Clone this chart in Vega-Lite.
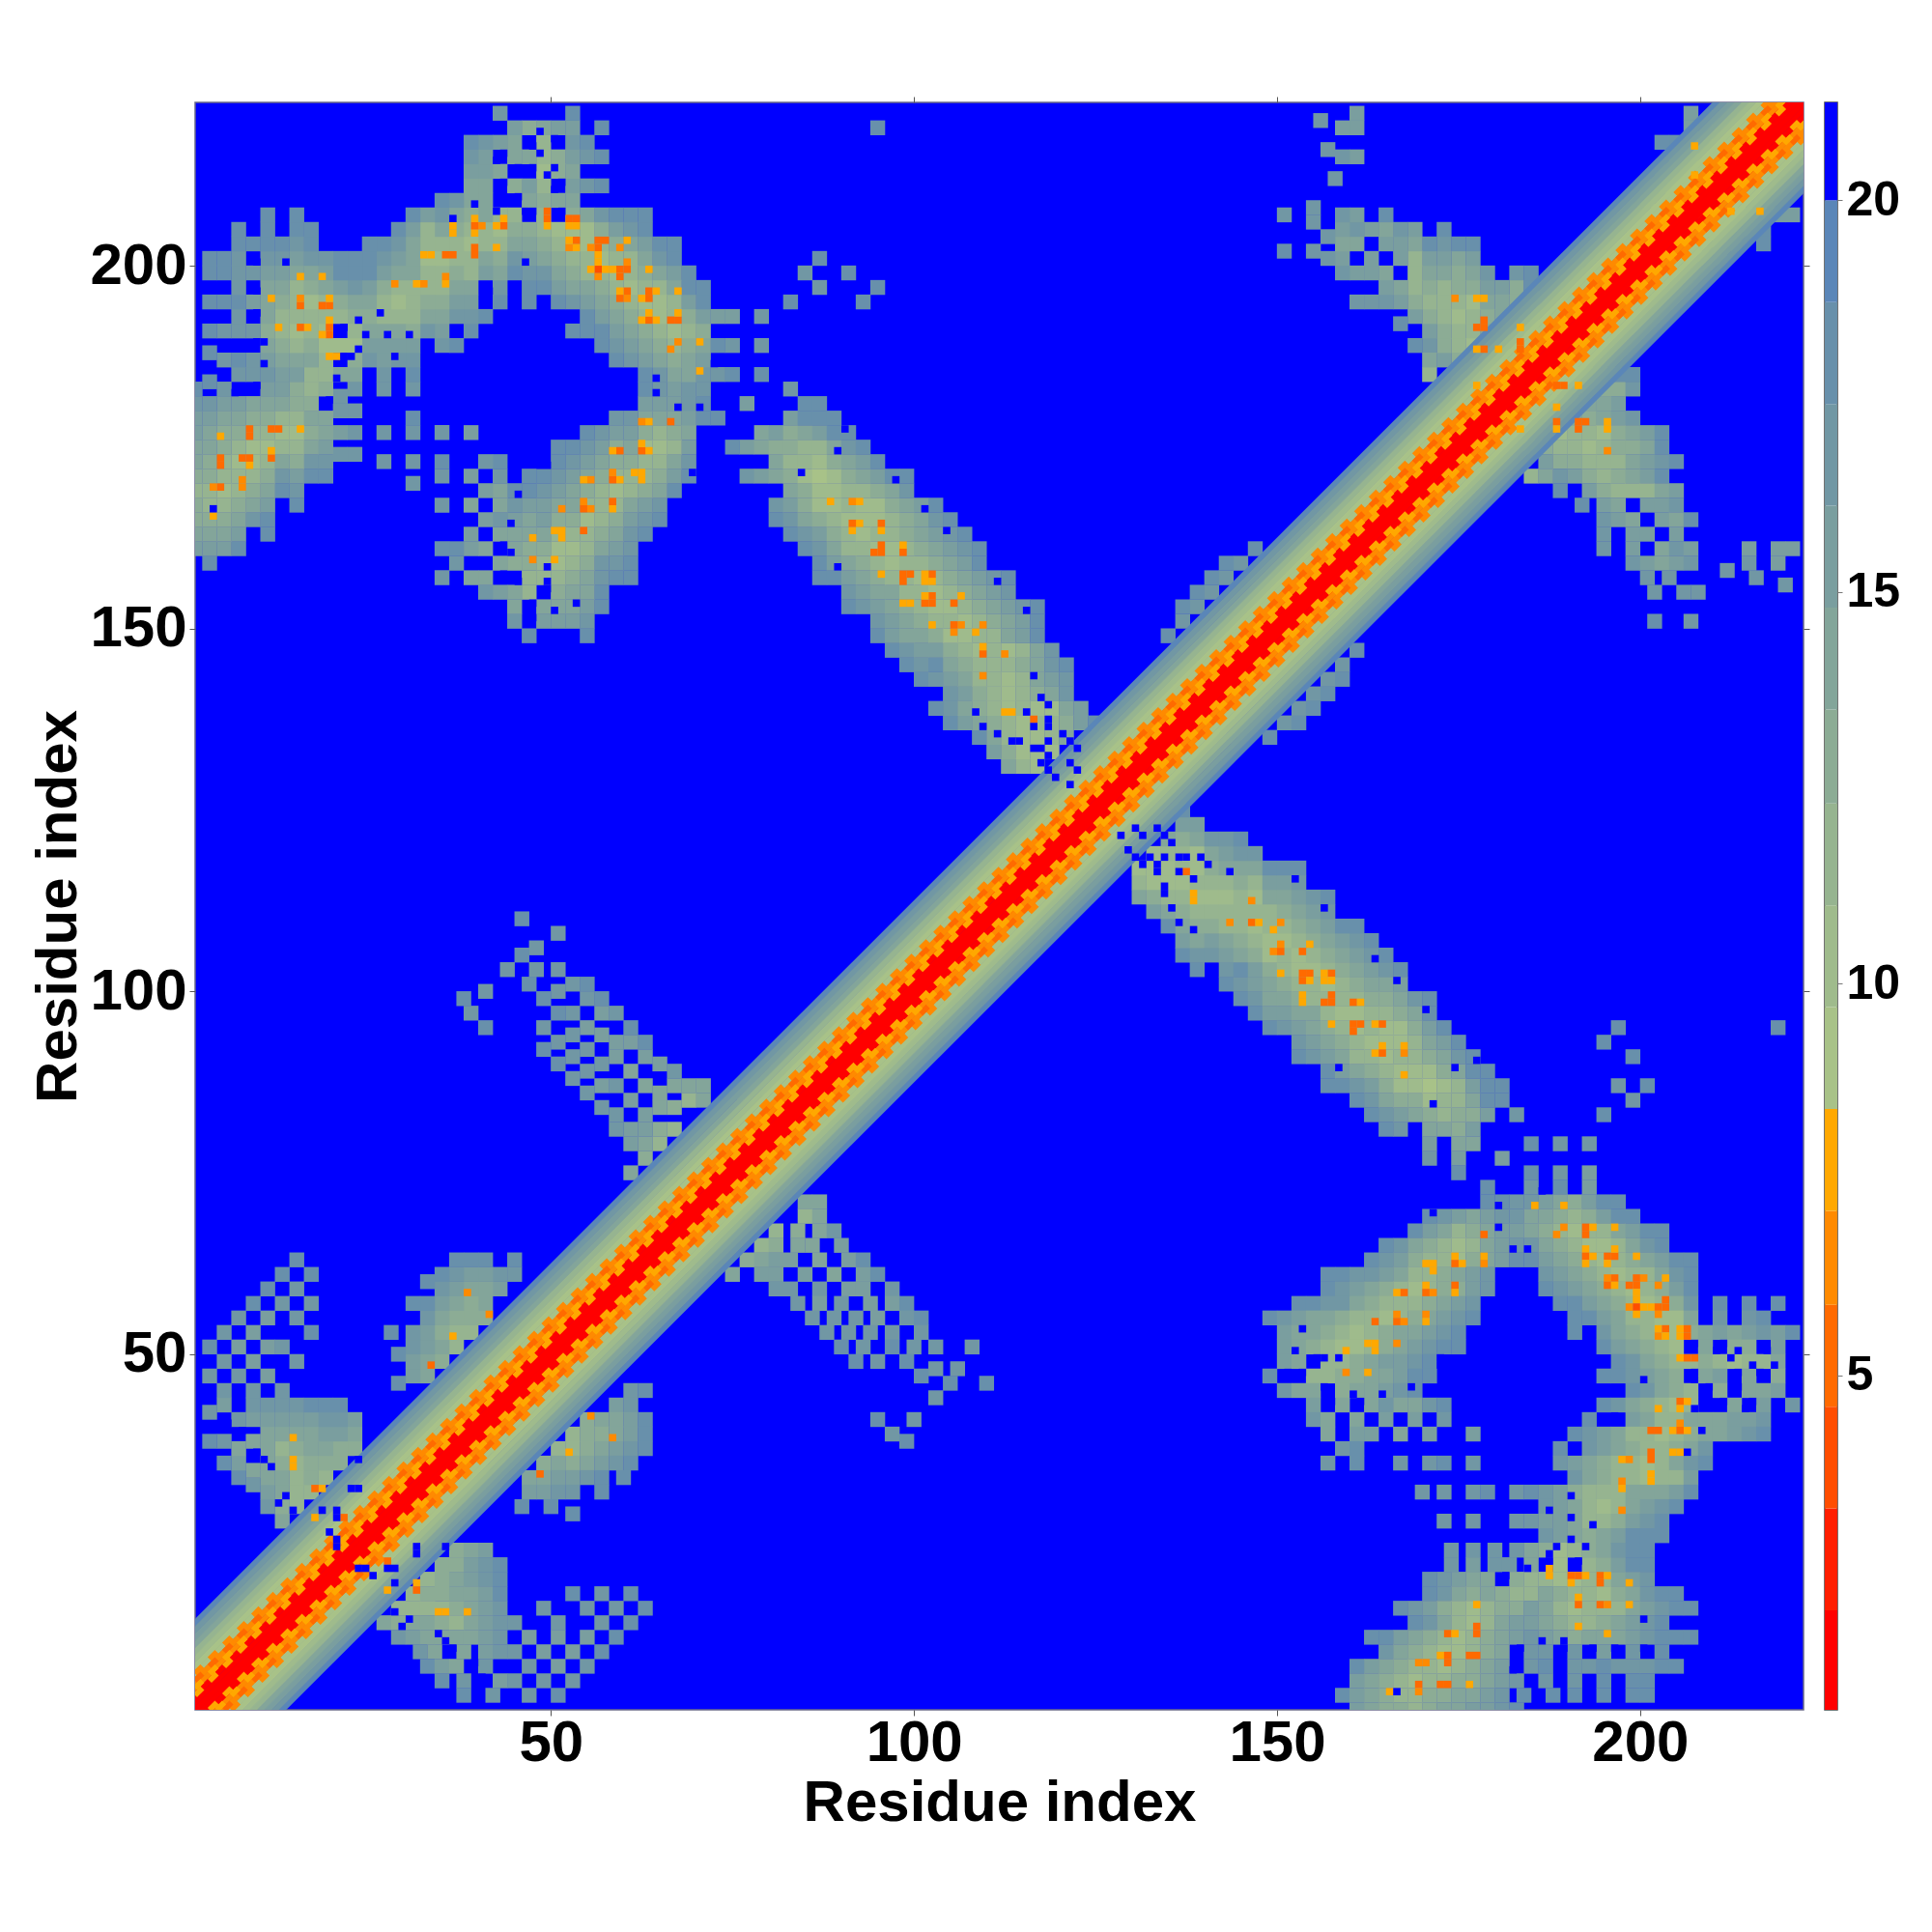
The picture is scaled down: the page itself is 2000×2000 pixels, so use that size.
{"$schema":"https://vega.github.io/schema/vega-lite/v6.json","background":"white","padding":{"left":30,"top":98,"right":0,"bottom":0},"spacing":22,"bounds":"flush",
"datasets":{
"band":[{"x0":3,"y0":-9,"x1":232,"y1":220,"v":19},{"x0":2,"y0":-9,"x1":232,"y1":221,"v":17},{"x0":1,"y0":-9,"x1":232,"y1":222,"v":16},{"x0":0,"y0":-9,"x1":232,"y1":223,"v":14},{"x0":-1,"y0":-9,"x1":232,"y1":224,"v":12},{"x0":-2,"y0":-9,"x1":232,"y1":225,"v":10},{"x0":-3,"y0":-9,"x1":232,"y1":226,"v":9},{"x0":-4,"y0":-9,"x1":232,"y1":227,"v":9},{"x0":-5,"y0":-9,"x1":232,"y1":228,"v":6},{"x0":-6,"y0":-9,"x1":232,"y1":229,"v":6},{"x0":-7,"y0":-9,"x1":232,"y1":230,"v":1},{"x0":-8,"y0":-9,"x1":232,"y1":231,"v":1},{"x0":-9,"y0":-9,"x1":232,"y1":232,"v":1}],
"dash":[{"x0":-4,"y0":-9,"x1":232,"y1":227,"v":6},{"x0":-5,"y0":-9,"x1":232,"y1":228,"v":5},{"x0":-6,"y0":-9,"x1":232,"y1":229,"v":8},{"x0":-7,"y0":-9,"x1":232,"y1":230,"v":8}],
"bar":[{"lo":0.73,"hi":2,"v":1},{"lo":2,"hi":3.3,"v":2.5},{"lo":3.3,"hi":4.6,"v":4},{"lo":4.6,"hi":5.9,"v":5},{"lo":5.9,"hi":7.1,"v":6},{"lo":7.1,"hi":8.4,"v":8},{"lo":8.4,"hi":9.7,"v":9},{"lo":9.7,"hi":11,"v":10},{"lo":11,"hi":12.3,"v":12},{"lo":12.3,"hi":13.5,"v":13},{"lo":13.5,"hi":14.8,"v":14},{"lo":14.8,"hi":16.1,"v":16},{"lo":16.1,"hi":17.4,"v":17},{"lo":17.4,"hi":18.7,"v":18},{"lo":18.7,"hi":20,"v":19},{"lo":20,"hi":21.25,"v":21}],
"spots":[{"x":138.5,"y":113.5,"v":8},{"x":138.5,"y":112.5,"v":8},{"x":137.5,"y":116.5,"v":5},{"x":146.5,"y":112.5,"v":6},{"x":143.5,"y":109.5,"v":6},{"x":146.5,"y":109.5,"v":5},{"x":147.5,"y":109.5,"v":8},{"x":150.5,"y":109.5,"v":6},{"x":149.5,"y":108.5,"v":8},{"x":150.5,"y":106.5,"v":6},{"x":149.5,"y":105.5,"v":6},{"x":150.5,"y":105.5,"v":5},{"x":154.5,"y":106.5,"v":8},{"x":153.5,"y":105.5,"v":5},{"x":150.5,"y":102.5,"v":8},{"x":153.5,"y":102.5,"v":5},{"x":154.5,"y":102.5,"v":5},{"x":153.5,"y":101.5,"v":5},{"x":154.5,"y":101.5,"v":8},{"x":156.5,"y":102.5,"v":8},{"x":157.5,"y":102.5,"v":5},{"x":156.5,"y":101.5,"v":8},{"x":157.5,"y":101.5,"v":8},{"x":153.5,"y":99.5,"v":8},{"x":153.5,"y":98.5,"v":8},{"x":157.5,"y":99.5,"v":5},{"x":156.5,"y":98.5,"v":5},{"x":157.5,"y":98.5,"v":5},{"x":160.5,"y":98.5,"v":5},{"x":161.5,"y":98.5,"v":8},{"x":157.5,"y":95.5,"v":8},{"x":160.5,"y":95.5,"v":5},{"x":161.5,"y":95.5,"v":5},{"x":160.5,"y":94.5,"v":5},{"x":163.5,"y":95.5,"v":8},{"x":164.5,"y":95.5,"v":5},{"x":164.5,"y":92.5,"v":8},{"x":163.5,"y":91.5,"v":8},{"x":164.5,"y":91.5,"v":5},{"x":167.5,"y":92.5,"v":8},{"x":167.5,"y":91.5,"v":6},{"x":167.5,"y":88.5,"v":8},
{"x":185.5,"y":70.5,"v":8},{"x":189.5,"y":70.5,"v":8},{"x":178.5,"y":66.5,"v":5},{"x":189.5,"y":67.5,"v":6},{"x":188.5,"y":66.5,"v":6},{"x":192.5,"y":67.5,"v":5},{"x":192.5,"y":66.5,"v":5},{"x":193.5,"y":67.5,"v":8},{"x":196.5,"y":67.5,"v":8},{"x":192.5,"y":64.5,"v":8},{"x":192.5,"y":63.5,"v":5},{"x":193.5,"y":63.5,"v":8},{"x":195.5,"y":63.5,"v":5},{"x":196.5,"y":63.5,"v":5},{"x":196.5,"y":64.5,"v":8},{"x":199.5,"y":63.5,"v":8},{"x":192.5,"y":62.5,"v":8},{"x":195.5,"y":62.5,"v":8},{"x":195.5,"y":60.5,"v":6},{"x":196.5,"y":60.5,"v":5},{"x":195.5,"y":59.5,"v":5},{"x":196.5,"y":59.5,"v":8},{"x":199.5,"y":60.5,"v":5},{"x":200.5,"y":60.5,"v":6},{"x":198.5,"y":59.5,"v":5},{"x":199.5,"y":59.5,"v":5},{"x":203.5,"y":60.5,"v":8},{"x":202.5,"y":59.5,"v":6},{"x":199.5,"y":58.5,"v":8},{"x":199.5,"y":57.5,"v":8},{"x":198.5,"y":56.5,"v":6},{"x":199.5,"y":56.5,"v":4},{"x":200.5,"y":56.5,"v":8},{"x":201.5,"y":56.5,"v":8},{"x":202.5,"y":56.5,"v":5},{"x":203.5,"y":57.5,"v":5},{"x":203.5,"y":56.5,"v":5},{"x":202.5,"y":55.5,"v":6},{"x":199.5,"y":55.5,"v":8},{"x":202.5,"y":53.5,"v":8},{"x":203.5,"y":53.5,"v":5},{"x":202.5,"y":52.5,"v":6},{"x":203.5,"y":52.5,"v":8},{"x":205.5,"y":53.5,"v":8},{"x":206.5,"y":53.5,"v":5},{"x":205.5,"y":52.5,"v":8},{"x":206.5,"y":52.5,"v":5},{"x":205.5,"y":49.5,"v":8},{"x":206.5,"y":49.5,"v":5},{"x":207.5,"y":49.5,"v":5},{"x":205.5,"y":43.5,"v":5},{"x":206.5,"y":43.5,"v":8},{"x":202.5,"y":42.5,"v":8},{"x":205.5,"y":42.5,"v":8},{"x":205.5,"y":40.5,"v":6},{"x":201.5,"y":39.5,"v":5},{"x":202.5,"y":39.5,"v":5},{"x":204.5,"y":39.5,"v":8},{"x":205.5,"y":39.5,"v":5},{"x":206.5,"y":39.5,"v":8},{"x":201.5,"y":36.5,"v":5},{"x":201.5,"y":35.5,"v":5},{"x":204.5,"y":36.5,"v":8},{"x":205.5,"y":36.5,"v":8},{"x":197.5,"y":35.5,"v":8},{"x":198.5,"y":35.5,"v":6},{"x":201.5,"y":33.5,"v":8},{"x":201.5,"y":32.5,"v":8},{"x":197.5,"y":32.5,"v":6},{"x":197.5,"y":31.5,"v":8},{"x":197.5,"y":28.5,"v":6},
{"x":178.5,"y":63.5,"v":8},{"x":178.5,"y":62.5,"v":6},{"x":174.5,"y":63.5,"v":8},{"x":174.5,"y":62.5,"v":5},{"x":175.5,"y":62.5,"v":8},{"x":170.5,"y":62.5,"v":8},{"x":171.5,"y":62.5,"v":8},{"x":171.5,"y":61.5,"v":8},{"x":170.5,"y":59.5,"v":8},{"x":174.5,"y":59.5,"v":5},{"x":170.5,"y":58.5,"v":5},{"x":171.5,"y":58.5,"v":6},{"x":174.5,"y":58.5,"v":8},{"x":166.5,"y":58.5,"v":8},{"x":167.5,"y":58.5,"v":5},{"x":166.5,"y":55.5,"v":6},{"x":166.5,"y":54.5,"v":5},{"x":167.5,"y":54.5,"v":6},{"x":170.5,"y":55.5,"v":6},{"x":170.5,"y":54.5,"v":8},{"x":163.5,"y":54.5,"v":5},{"x":166.5,"y":51.5,"v":6},{"x":162.5,"y":51.5,"v":8},{"x":163.5,"y":51.5,"v":8},{"x":163.5,"y":50.5,"v":8},{"x":159.5,"y":50.5,"v":8},{"x":159.5,"y":47.5,"v":6},{"x":162.5,"y":47.5,"v":8},
{"x":187.5,"y":20.5,"v":8},{"x":187.5,"y":19.5,"v":8},{"x":190.5,"y":19.5,"v":5},{"x":191.5,"y":19.5,"v":5},{"x":192.5,"y":19.5,"v":8},{"x":190.5,"y":18.5,"v":8},{"x":194.5,"y":19.5,"v":5},{"x":194.5,"y":18.5,"v":5},{"x":195.5,"y":19.5,"v":8},{"x":198.5,"y":18.5,"v":8},{"x":191.5,"y":16.5,"v":8},{"x":191.5,"y":15.5,"v":5},{"x":194.5,"y":15.5,"v":5},{"x":195.5,"y":15.5,"v":6},{"x":198.5,"y":15.5,"v":8},{"x":191.5,"y":12.5,"v":8},{"x":195.5,"y":11.5,"v":8},{"x":177.5,"y":15.5,"v":8},{"x":177.5,"y":12.5,"v":5},{"x":177.5,"y":11.5,"v":5},{"x":173.5,"y":11.5,"v":5},{"x":174.5,"y":11.5,"v":8},{"x":172.5,"y":8.5,"v":8},{"x":173.5,"y":8.5,"v":5},{"x":173.5,"y":7.5,"v":5},{"x":176.5,"y":8.5,"v":5},{"x":177.5,"y":8.5,"v":5},{"x":169.5,"y":7.5,"v":6},{"x":170.5,"y":7.5,"v":6},{"x":169.5,"y":4.5,"v":5},{"x":172.5,"y":4.5,"v":5},{"x":173.5,"y":4.5,"v":5},{"x":176.5,"y":4.5,"v":8},{"x":169.5,"y":3.5,"v":6},{"x":165.5,"y":3.5,"v":8},
{"x":188.5,"y":183.5,"v":5},{"x":189.5,"y":183.5,"v":5},{"x":191.5,"y":183.5,"v":8},{"x":188.5,"y":180.5,"v":8},{"x":188.5,"y":178.5,"v":5},{"x":188.5,"y":177.5,"v":8},{"x":191.5,"y":178.5,"v":5},{"x":192.5,"y":178.5,"v":5},{"x":191.5,"y":177.5,"v":5},{"x":195.5,"y":178.5,"v":8},{"x":195.5,"y":177.5,"v":8},{"x":195.5,"y":174.5,"v":6},{"x":183.5,"y":177.5,"v":8},{"x":27.5,"y":21.5,"v":5},{"x":27.5,"y":17.5,"v":8},{"x":31.5,"y":18.5,"v":8},{"x":31.5,"y":17.5,"v":5},{"x":34.5,"y":14.5,"v":8},{"x":35.5,"y":14.5,"v":8},{"x":38.5,"y":14.5,"v":8},{"x":216.5,"y":207.5,"v":8},{"x":212.5,"y":207.5,"v":8},{"x":55.5,"y":41.5,"v":6},{"x":58.5,"y":38.5,"v":6},{"x":52.5,"y":36.5,"v":8},{"x":48.5,"y":33.5,"v":5},
{"x":128.5,"y":121.5,"v":21},{"x":130.5,"y":122.5,"v":21},{"x":131.5,"y":121.5,"v":21},{"x":133.5,"y":122.5,"v":21},{"x":134.5,"y":121.5,"v":21},{"x":135.5,"y":120.5,"v":21},{"x":129.5,"y":119.5,"v":21},{"x":130.5,"y":118.5,"v":21},{"x":132.5,"y":118.5,"v":21},{"x":134.5,"y":118.5,"v":21},{"x":136.5,"y":118.5,"v":21},{"x":137.5,"y":118.5,"v":21},{"x":131.5,"y":117.5,"v":21},{"x":133.5,"y":117.5,"v":21},{"x":133.5,"y":116.5,"v":21},{"x":136.5,"y":116.5,"v":21},{"x":138.5,"y":115.5,"v":21},{"x":134.5,"y":114.5,"v":21},{"x":134.5,"y":113.5,"v":21},{"x":135.5,"y":111.5,"v":21},{"x":136.5,"y":109.5,"v":21},{"x":138.5,"y":108.5,"v":21},{"x":143.5,"y":116.5,"v":21},{"x":140.5,"y":117.5,"v":21},{"x":139.5,"y":118.5,"v":21},{"x":152.5,"y":115.5,"v":21},{"x":156.5,"y":111.5,"v":21},{"x":163.5,"y":104.5,"v":21},{"x":166.5,"y":101.5,"v":21},{"x":170.5,"y":97.5,"v":21},{"x":174.5,"y":89.5,"v":21},{"x":177.5,"y":90.5,"v":21},{"x":158.5,"y":89.5,"v":21},{"x":171.5,"y":84.5,"v":21},
{"x":23.5,"y":20.5,"v":21},{"x":24.5,"y":20.5,"v":21},{"x":25.5,"y":19.5,"v":21},{"x":27.5,"y":20.5,"v":21},{"x":28.5,"y":20.5,"v":21},{"x":28.5,"y":18.5,"v":21},{"x":31.5,"y":23.5,"v":21},{"x":31.5,"y":22.5,"v":21},{"x":35.5,"y":23.5,"v":21},{"x":28.5,"y":14.5,"v":21},{"x":30.5,"y":13.5,"v":21},{"x":29.5,"y":12.5,"v":21},{"x":34.5,"y":11.5,"v":21},{"x":35.5,"y":10.5,"v":21},{"x":36.5,"y":9.5,"v":21},{"x":39.5,"y":7.5,"v":21},{"x":40.5,"y":5.5,"v":21},
{"x":153.5,"y":53.5,"v":21},{"x":152.5,"y":50.5,"v":21},{"x":155.5,"y":49.5,"v":21},{"x":156.5,"y":49.5,"v":21},{"x":158.5,"y":49.5,"v":21},{"x":151.5,"y":47.5,"v":21},{"x":153.5,"y":47.5,"v":21},{"x":156.5,"y":45.5,"v":21},{"x":157.5,"y":43.5,"v":21},{"x":160.5,"y":44.5,"v":21},{"x":161.5,"y":43.5,"v":21},{"x":164.5,"y":44.5,"v":21},{"x":168.5,"y":45.5,"v":21},{"x":172.5,"y":49.5,"v":21},{"x":172.5,"y":48.5,"v":21},{"x":200.5,"y":46.5,"v":21},{"x":207.5,"y":47.5,"v":21},{"x":207.5,"y":46.5,"v":21},{"x":207.5,"y":51.5,"v":21},{"x":211.5,"y":51.5,"v":21},{"x":210.5,"y":50.5,"v":21},{"x":213.5,"y":50.5,"v":21},{"x":217.5,"y":50.5,"v":21},{"x":212.5,"y":49.5,"v":21},{"x":215.5,"y":48.5,"v":21},{"x":218.5,"y":48.5,"v":21},{"x":213.5,"y":47.5,"v":21},{"x":216.5,"y":47.5,"v":21},{"x":209.5,"y":45.5,"v":21},{"x":213.5,"y":45.5,"v":21},{"x":209.5,"y":43.5,"v":21},{"x":211.5,"y":43.5,"v":21},{"x":215.5,"y":43.5,"v":21},{"x":214.5,"y":42.5,"v":21},{"x":207.5,"y":42.5,"v":21},{"x":208.5,"y":39.5,"v":21},{"x":206.5,"y":36.5,"v":21},{"x":196.5,"y":41.5,"v":21},{"x":190.5,"y":30.5,"v":21},{"x":187.5,"y":28.5,"v":21},{"x":190.5,"y":27.5,"v":21},{"x":193.5,"y":26.5,"v":21},{"x":190.5,"y":24.5,"v":21},{"x":188.5,"y":23.5,"v":21},{"x":192.5,"y":23.5,"v":21},{"x":187.5,"y":22.5,"v":21},{"x":187.5,"y":21.5,"v":21},{"x":191.5,"y":21.5,"v":21},{"x":184.5,"y":20.5,"v":21},{"x":181.5,"y":19.5,"v":21},{"x":200.5,"y":13.5,"v":21},{"x":183.5,"y":9.5,"v":21},{"x":186.5,"y":10.5,"v":21},{"x":189.5,"y":10.5,"v":21},{"x":189.5,"y":9.5,"v":21},{"x":193.5,"y":9.5,"v":21},{"x":196.5,"y":9.5,"v":21},{"x":200.5,"y":9.5,"v":21},{"x":182.5,"y":6.5,"v":21},{"x":166.5,"y":3.5,"v":21},{"x":180.5,"y":70.5,"v":21},{"x":186.5,"y":72.5,"v":21},{"x":180.5,"y":67.5,"v":21},{"x":182.5,"y":64.5,"v":21},{"x":184.5,"y":64.5,"v":21},{"x":171.5,"y":69.5,"v":21}],
"cells":[
{"x":149,"y":135,"v":18},{"x":151,"y":137,"v":17},{"x":153,"y":139,"v":17},{"x":155,"y":141,"v":17},{"x":157,"y":143,"v":17},{"x":159,"y":145,"v":17},{"x":161,"y":147,"v":18},{"x":153,"y":137,"v":18},{"x":155,"y":139,"v":18},{"x":157,"y":141,"v":18},{"x":159,"y":143,"v":18},
{"x":131,"y":113,"v":14},{"x":131,"y":115,"v":12},{"x":131,"y":117,"v":10},{"x":133,"y":111,"v":16},{"x":133,"y":113,"v":13},{"x":133,"y":115,"v":10},{"x":133,"y":117,"v":10},{"x":133,"y":119,"v":10},{"x":135,"y":109,"v":18},{"x":135,"y":111,"v":14},{"x":135,"y":113,"v":12},{"x":135,"y":115,"v":10},{"x":135,"y":117,"v":10},{"x":135,"y":119,"v":12},{"x":135,"y":121,"v":14},
{"x":137,"y":105,"v":18},{"x":137,"y":107,"v":16},{"x":137,"y":109,"v":14},{"x":137,"y":111,"v":13},{"x":137,"y":113,"v":12},{"x":137,"y":115,"v":10},{"x":137,"y":117,"v":12},{"x":137,"y":119,"v":12},{"x":137,"y":121,"v":13},{"x":137,"y":123,"v":16},{"x":137,"y":125,"v":18},
{"x":139,"y":103,"v":18},{"x":139,"y":105,"v":17},{"x":139,"y":107,"v":14},{"x":139,"y":109,"v":13},{"x":139,"y":111,"v":12},{"x":139,"y":113,"v":10},{"x":139,"y":115,"v":12},{"x":139,"y":117,"v":10},{"x":139,"y":119,"v":10},{"x":139,"y":121,"v":14},{"x":139,"y":123,"v":16},
{"x":141,"y":105,"v":17},{"x":141,"y":107,"v":16},{"x":141,"y":109,"v":13},{"x":141,"y":111,"v":12},{"x":141,"y":113,"v":10},{"x":141,"y":115,"v":12},{"x":141,"y":117,"v":13},{"x":141,"y":119,"v":14},{"x":141,"y":121,"v":17},
{"x":143,"y":101,"v":18},{"x":143,"y":103,"v":17},{"x":143,"y":105,"v":16},{"x":143,"y":107,"v":14},{"x":143,"y":109,"v":12},{"x":143,"y":111,"v":12},{"x":143,"y":113,"v":10},{"x":143,"y":115,"v":12},{"x":143,"y":117,"v":14},{"x":143,"y":119,"v":16},{"x":143,"y":121,"v":17},
{"x":145,"y":99,"v":18},{"x":145,"y":101,"v":17},{"x":145,"y":103,"v":18},{"x":145,"y":105,"v":14},{"x":145,"y":107,"v":13},{"x":145,"y":109,"v":12},{"x":145,"y":111,"v":12},{"x":145,"y":113,"v":12},{"x":145,"y":115,"v":13},{"x":145,"y":117,"v":14},{"x":145,"y":119,"v":17},{"x":145,"y":121,"v":18},
{"x":147,"y":97,"v":18},{"x":147,"y":99,"v":17},{"x":147,"y":101,"v":16},{"x":147,"y":103,"v":16},{"x":147,"y":105,"v":13},{"x":147,"y":107,"v":12},{"x":147,"y":109,"v":10},{"x":147,"y":111,"v":12},{"x":147,"y":113,"v":10},{"x":147,"y":115,"v":12},{"x":147,"y":117,"v":14},{"x":147,"y":119,"v":17},
{"x":149,"y":95,"v":18},{"x":149,"y":97,"v":16},{"x":149,"y":99,"v":14},{"x":149,"y":101,"v":14},{"x":149,"y":103,"v":13},{"x":149,"y":105,"v":10},{"x":149,"y":107,"v":10},{"x":149,"y":109,"v":12},{"x":149,"y":111,"v":12},{"x":149,"y":113,"v":14},{"x":149,"y":115,"v":16},{"x":149,"y":117,"v":18},
{"x":151,"y":95,"v":17},{"x":151,"y":97,"v":16},{"x":151,"y":99,"v":14},{"x":151,"y":101,"v":13},{"x":151,"y":103,"v":12},{"x":151,"y":105,"v":12},{"x":151,"y":107,"v":10},{"x":151,"y":109,"v":12},{"x":151,"y":111,"v":13},{"x":151,"y":113,"v":14},{"x":151,"y":115,"v":16},{"x":151,"y":117,"v":18},
{"x":153,"y":91,"v":18},{"x":153,"y":93,"v":17},{"x":153,"y":95,"v":16},{"x":153,"y":97,"v":14},{"x":153,"y":99,"v":13},{"x":153,"y":101,"v":12},{"x":153,"y":103,"v":10},{"x":153,"y":105,"v":10},{"x":153,"y":107,"v":12},{"x":153,"y":109,"v":13},{"x":153,"y":111,"v":14},{"x":153,"y":113,"v":16},{"x":153,"y":115,"v":17},{"x":153,"y":117,"v":18},
{"x":155,"y":91,"v":17},{"x":155,"y":93,"v":16},{"x":155,"y":95,"v":14},{"x":155,"y":97,"v":14},{"x":155,"y":99,"v":12},{"x":155,"y":101,"v":12},{"x":155,"y":103,"v":10},{"x":155,"y":105,"v":12},{"x":155,"y":107,"v":13},{"x":155,"y":109,"v":14},{"x":155,"y":111,"v":16},{"x":155,"y":113,"v":17},
{"x":157,"y":87,"v":18},{"x":157,"y":89,"v":18},{"x":157,"y":91,"v":16},{"x":157,"y":93,"v":14},{"x":157,"y":95,"v":13},{"x":157,"y":97,"v":12},{"x":157,"y":99,"v":12},{"x":157,"y":101,"v":10},{"x":157,"y":103,"v":12},{"x":157,"y":105,"v":13},{"x":157,"y":107,"v":14},{"x":157,"y":109,"v":16},{"x":157,"y":111,"v":17},{"x":157,"y":113,"v":18},
{"x":159,"y":87,"v":18},{"x":159,"y":89,"v":16},{"x":159,"y":91,"v":14},{"x":159,"y":93,"v":13},{"x":159,"y":95,"v":12},{"x":159,"y":97,"v":10},{"x":159,"y":99,"v":12},{"x":159,"y":101,"v":12},{"x":159,"y":103,"v":13},{"x":159,"y":105,"v":14},{"x":159,"y":107,"v":16},{"x":159,"y":109,"v":18},
{"x":161,"y":85,"v":18},{"x":161,"y":87,"v":17},{"x":161,"y":89,"v":14},{"x":161,"y":91,"v":12},{"x":161,"y":93,"v":12},{"x":161,"y":95,"v":10},{"x":161,"y":97,"v":10},{"x":161,"y":99,"v":12},{"x":161,"y":101,"v":13},{"x":161,"y":103,"v":14},{"x":161,"y":105,"v":16},{"x":161,"y":107,"v":17},{"x":161,"y":109,"v":18},
{"x":163,"y":83,"v":18},{"x":163,"y":85,"v":17},{"x":163,"y":87,"v":16},{"x":163,"y":89,"v":13},{"x":163,"y":91,"v":12},{"x":163,"y":93,"v":10},{"x":163,"y":95,"v":12},{"x":163,"y":97,"v":12},{"x":163,"y":99,"v":13},{"x":163,"y":101,"v":14},{"x":163,"y":103,"v":16},{"x":163,"y":105,"v":17},{"x":163,"y":107,"v":18},
{"x":165,"y":81,"v":18},{"x":165,"y":83,"v":17},{"x":165,"y":85,"v":14},{"x":165,"y":87,"v":13},{"x":165,"y":89,"v":12},{"x":165,"y":91,"v":10},{"x":165,"y":93,"v":10},{"x":165,"y":95,"v":10},{"x":165,"y":97,"v":12},{"x":165,"y":99,"v":13},{"x":165,"y":101,"v":14},{"x":165,"y":103,"v":17},{"x":165,"y":105,"v":18},
{"x":167,"y":81,"v":17},{"x":167,"y":83,"v":16},{"x":167,"y":85,"v":13},{"x":167,"y":87,"v":10},{"x":167,"y":89,"v":10},{"x":167,"y":91,"v":12},{"x":167,"y":93,"v":10},{"x":167,"y":95,"v":10},{"x":167,"y":97,"v":13},{"x":167,"y":99,"v":14},{"x":167,"y":101,"v":16},{"x":167,"y":103,"v":18},
{"x":169,"y":83,"v":14},{"x":169,"y":85,"v":13},{"x":169,"y":87,"v":10},{"x":169,"y":89,"v":10},{"x":169,"y":91,"v":12},{"x":169,"y":93,"v":12},{"x":169,"y":95,"v":13},{"x":169,"y":97,"v":14},{"x":169,"y":99,"v":17},
{"x":171,"y":77,"v":17},{"x":171,"y":79,"v":16},{"x":171,"y":81,"v":14},{"x":171,"y":83,"v":13},{"x":171,"y":85,"v":10},{"x":171,"y":87,"v":9},{"x":171,"y":89,"v":10},{"x":171,"y":91,"v":13},{"x":171,"y":93,"v":14},{"x":171,"y":95,"v":16},{"x":171,"y":97,"v":18},{"x":171,"y":99,"v":18},
{"x":173,"y":81,"v":14},{"x":173,"y":83,"v":12},{"x":173,"y":85,"v":12},{"x":173,"y":87,"v":10},{"x":173,"y":89,"v":13},{"x":173,"y":91,"v":14},{"x":173,"y":93,"v":16},{"x":173,"y":95,"v":18},
{"x":175,"y":77,"v":16},{"x":175,"y":79,"v":14},{"x":175,"y":81,"v":13},{"x":175,"y":83,"v":13},{"x":175,"y":85,"v":12},{"x":175,"y":87,"v":12},{"x":175,"y":89,"v":14},{"x":175,"y":91,"v":17},{"x":175,"y":93,"v":18},
{"x":177,"y":79,"v":14},{"x":177,"y":81,"v":16},{"x":177,"y":83,"v":13},{"x":177,"y":85,"v":14},{"x":177,"y":87,"v":16},{"x":177,"y":89,"v":18},{"x":177,"y":91,"v":18},{"x":179,"y":83,"v":16},{"x":179,"y":85,"v":18},{"x":179,"y":87,"v":18},{"x":179,"y":89,"v":18},{"x":181,"y":85,"v":18},{"x":181,"y":87,"v":18},{"x":181,"y":77,"v":16},{"x":183,"y":83,"v":17},
{"x":195,"y":93,"v":18},{"x":197,"y":95,"v":18},{"x":199,"y":91,"v":18},{"x":197,"y":87,"v":17},{"x":199,"y":85,"v":17},{"x":201,"y":87,"v":18},{"x":195,"y":83,"v":18},{"x":219,"y":95,"v":18},{"x":189,"y":79,"v":17},{"x":185,"y":79,"v":18},{"x":193,"y":79,"v":17},
{"x":175,"y":75,"v":18},{"x":185,"y":75,"v":18},{"x":189,"y":75,"v":17},{"x":193,"y":75,"v":16},{"x":179,"y":73,"v":18},{"x":185,"y":73,"v":17},{"x":189,"y":73,"v":18},{"x":193,"y":73,"v":16},
{"x":179,"y":71,"v":18},{"x":181,"y":71,"v":18},{"x":183,"y":71,"v":17},{"x":185,"y":71,"v":17},{"x":187,"y":71,"v":16},{"x":189,"y":71,"v":14},{"x":191,"y":71,"v":13},{"x":193,"y":71,"v":16},{"x":195,"y":71,"v":18},{"x":197,"y":71,"v":18},
{"x":171,"y":69,"v":18},{"x":173,"y":69,"v":17},{"x":175,"y":69,"v":16},{"x":177,"y":69,"v":14},{"x":179,"y":69,"v":16},{"x":181,"y":69,"v":17},{"x":183,"y":69,"v":17},{"x":185,"y":69,"v":14},{"x":187,"y":69,"v":14},{"x":189,"y":69,"v":13},{"x":191,"y":69,"v":12},{"x":193,"y":69,"v":13},{"x":195,"y":69,"v":16},{"x":197,"y":69,"v":18},{"x":199,"y":69,"v":18},
{"x":169,"y":67,"v":18},{"x":171,"y":67,"v":16},{"x":173,"y":67,"v":14},{"x":175,"y":67,"v":12},{"x":177,"y":67,"v":13},{"x":179,"y":67,"v":14},{"x":181,"y":67,"v":16},{"x":183,"y":67,"v":16},{"x":185,"y":67,"v":14},{"x":187,"y":67,"v":13},{"x":189,"y":67,"v":12},{"x":191,"y":67,"v":10},{"x":193,"y":67,"v":12},{"x":195,"y":67,"v":12},{"x":197,"y":67,"v":14},{"x":199,"y":67,"v":16},{"x":201,"y":67,"v":18},{"x":203,"y":67,"v":18},
{"x":165,"y":65,"v":18},{"x":167,"y":65,"v":17},{"x":169,"y":65,"v":14},{"x":171,"y":65,"v":13},{"x":173,"y":65,"v":12},{"x":175,"y":65,"v":10},{"x":177,"y":65,"v":12},{"x":179,"y":65,"v":14},{"x":181,"y":65,"v":16},{"x":183,"y":65,"v":17},{"x":185,"y":65,"v":17},{"x":187,"y":65,"v":14},{"x":189,"y":65,"v":13},{"x":191,"y":65,"v":12},{"x":193,"y":65,"v":10},{"x":195,"y":65,"v":10},{"x":197,"y":65,"v":12},{"x":199,"y":65,"v":14},{"x":201,"y":65,"v":17},{"x":203,"y":65,"v":18},
{"x":163,"y":63,"v":18},{"x":165,"y":63,"v":17},{"x":167,"y":63,"v":16},{"x":169,"y":63,"v":13},{"x":171,"y":63,"v":12},{"x":173,"y":63,"v":12},{"x":175,"y":63,"v":10},{"x":177,"y":63,"v":13},{"x":179,"y":63,"v":14},{"x":181,"y":63,"v":16},{"x":183,"y":63,"v":18},{"x":185,"y":63,"v":18},{"x":187,"y":63,"v":16},{"x":189,"y":63,"v":14},{"x":191,"y":63,"v":13},{"x":193,"y":63,"v":12},{"x":195,"y":63,"v":10},{"x":197,"y":63,"v":12},{"x":199,"y":63,"v":13},{"x":201,"y":63,"v":14},{"x":203,"y":63,"v":16},{"x":205,"y":63,"v":18},{"x":207,"y":63,"v":18},
{"x":157,"y":61,"v":18},{"x":159,"y":61,"v":18},{"x":161,"y":61,"v":17},{"x":163,"y":61,"v":17},{"x":165,"y":61,"v":16},{"x":167,"y":61,"v":14},{"x":169,"y":61,"v":12},{"x":171,"y":61,"v":12},{"x":173,"y":61,"v":13},{"x":175,"y":61,"v":14},{"x":177,"y":61,"v":16},{"x":179,"y":61,"v":17},{"x":187,"y":61,"v":17},{"x":189,"y":61,"v":16},{"x":191,"y":61,"v":14},{"x":193,"y":61,"v":13},{"x":195,"y":61,"v":12},{"x":197,"y":61,"v":10},{"x":199,"y":61,"v":12},{"x":201,"y":61,"v":12},{"x":203,"y":61,"v":14},{"x":205,"y":61,"v":17},{"x":207,"y":61,"v":18},
{"x":157,"y":59,"v":18},{"x":159,"y":59,"v":17},{"x":161,"y":59,"v":16},{"x":163,"y":59,"v":14},{"x":165,"y":59,"v":13},{"x":167,"y":59,"v":12},{"x":169,"y":59,"v":10},{"x":171,"y":59,"v":12},{"x":173,"y":59,"v":13},{"x":175,"y":59,"v":13},{"x":177,"y":59,"v":16},{"x":179,"y":59,"v":17},{"x":187,"y":59,"v":18},{"x":189,"y":59,"v":17},{"x":191,"y":59,"v":16},{"x":193,"y":59,"v":14},{"x":195,"y":59,"v":13},{"x":197,"y":59,"v":12},{"x":199,"y":59,"v":10},{"x":201,"y":59,"v":12},{"x":203,"y":59,"v":13},{"x":205,"y":59,"v":16},{"x":207,"y":59,"v":18},
{"x":153,"y":57,"v":18},{"x":155,"y":57,"v":18},{"x":157,"y":57,"v":17},{"x":159,"y":57,"v":17},{"x":161,"y":57,"v":14},{"x":163,"y":57,"v":13},{"x":165,"y":57,"v":12},{"x":167,"y":57,"v":12},{"x":169,"y":57,"v":12},{"x":171,"y":57,"v":13},{"x":173,"y":57,"v":14},{"x":175,"y":57,"v":16},{"x":177,"y":57,"v":17},{"x":189,"y":57,"v":18},{"x":191,"y":57,"v":18},{"x":193,"y":57,"v":16},{"x":195,"y":57,"v":14},{"x":197,"y":57,"v":13},{"x":199,"y":57,"v":12},{"x":201,"y":57,"v":10},{"x":203,"y":57,"v":12},{"x":205,"y":57,"v":13},{"x":207,"y":57,"v":17},{"x":211,"y":57,"v":18},{"x":215,"y":57,"v":18},{"x":219,"y":57,"v":18},
{"x":149,"y":55,"v":18},{"x":151,"y":55,"v":17},{"x":153,"y":55,"v":16},{"x":155,"y":55,"v":14},{"x":157,"y":55,"v":14},{"x":159,"y":55,"v":13},{"x":161,"y":55,"v":12},{"x":163,"y":55,"v":12},{"x":165,"y":55,"v":10},{"x":167,"y":55,"v":12},{"x":169,"y":55,"v":13},{"x":171,"y":55,"v":14},{"x":173,"y":55,"v":16},{"x":175,"y":55,"v":17},{"x":177,"y":55,"v":18},{"x":191,"y":55,"v":18},{"x":193,"y":55,"v":18},{"x":195,"y":55,"v":16},{"x":197,"y":55,"v":14},{"x":199,"y":55,"v":12},{"x":201,"y":55,"v":12},{"x":203,"y":55,"v":10},{"x":205,"y":55,"v":10},{"x":207,"y":55,"v":14},{"x":211,"y":55,"v":17},{"x":215,"y":55,"v":17},{"x":217,"y":55,"v":18},
{"x":151,"y":53,"v":16},{"x":153,"y":53,"v":14},{"x":155,"y":53,"v":14},{"x":157,"y":53,"v":13},{"x":159,"y":53,"v":12},{"x":161,"y":53,"v":10},{"x":163,"y":53,"v":12},{"x":165,"y":53,"v":13},{"x":167,"y":53,"v":14},{"x":169,"y":53,"v":14},{"x":171,"y":53,"v":16},{"x":173,"y":53,"v":17},{"x":175,"y":53,"v":18},{"x":191,"y":53,"v":18},{"x":195,"y":53,"v":17},{"x":197,"y":53,"v":14},{"x":199,"y":53,"v":13},{"x":201,"y":53,"v":12},{"x":203,"y":53,"v":10},{"x":205,"y":53,"v":10},{"x":207,"y":53,"v":13},{"x":209,"y":53,"v":14},{"x":211,"y":53,"v":16},{"x":213,"y":53,"v":14},{"x":215,"y":53,"v":16},{"x":217,"y":53,"v":17},{"x":219,"y":53,"v":16},{"x":221,"y":53,"v":18},
{"x":151,"y":51,"v":16},{"x":153,"y":51,"v":14},{"x":155,"y":51,"v":13},{"x":157,"y":51,"v":12},{"x":159,"y":51,"v":10},{"x":161,"y":51,"v":10},{"x":163,"y":51,"v":12},{"x":165,"y":51,"v":13},{"x":167,"y":51,"v":14},{"x":169,"y":51,"v":16},{"x":171,"y":51,"v":17},{"x":173,"y":51,"v":18},{"x":175,"y":51,"v":18},{"x":195,"y":51,"v":18},{"x":197,"y":51,"v":16},{"x":199,"y":51,"v":14},{"x":201,"y":51,"v":13},{"x":203,"y":51,"v":12},{"x":205,"y":51,"v":10},{"x":209,"y":51,"v":14},{"x":213,"y":51,"v":13},{"x":215,"y":51,"v":13},{"x":219,"y":51,"v":16},
{"x":151,"y":49,"v":16},{"x":153,"y":49,"v":14},{"x":157,"y":49,"v":12},{"x":159,"y":49,"v":12},{"x":161,"y":49,"v":13},{"x":163,"y":49,"v":14},{"x":165,"y":49,"v":16},{"x":167,"y":49,"v":16},{"x":169,"y":49,"v":17},{"x":171,"y":49,"v":18},{"x":197,"y":49,"v":18},{"x":199,"y":49,"v":17},{"x":201,"y":49,"v":14},{"x":203,"y":49,"v":13},{"x":205,"y":49,"v":12},{"x":207,"y":49,"v":12},{"x":209,"y":49,"v":13},{"x":211,"y":49,"v":12},{"x":213,"y":49,"v":10},{"x":215,"y":49,"v":12},{"x":217,"y":49,"v":12},{"x":219,"y":49,"v":14},
{"x":149,"y":47,"v":18},{"x":155,"y":47,"v":12},{"x":157,"y":47,"v":12},{"x":159,"y":47,"v":13},{"x":161,"y":47,"v":13},{"x":163,"y":47,"v":14},{"x":165,"y":47,"v":14},{"x":167,"y":47,"v":16},{"x":169,"y":47,"v":18},{"x":171,"y":47,"v":18},{"x":195,"y":47,"v":18},{"x":197,"y":47,"v":18},{"x":199,"y":47,"v":17},{"x":201,"y":47,"v":16},{"x":203,"y":47,"v":14},{"x":205,"y":47,"v":13},{"x":209,"y":47,"v":14},{"x":211,"y":47,"v":16},{"x":215,"y":47,"v":14},{"x":219,"y":47,"v":13},
{"x":151,"y":45,"v":17},{"x":153,"y":45,"v":14},{"x":155,"y":45,"v":14},{"x":159,"y":45,"v":13},{"x":161,"y":45,"v":14},{"x":163,"y":45,"v":14},{"x":165,"y":45,"v":16},{"x":167,"y":45,"v":17},{"x":169,"y":45,"v":18},{"x":199,"y":45,"v":18},{"x":201,"y":45,"v":17},{"x":203,"y":45,"v":14},{"x":205,"y":45,"v":13},{"x":207,"y":45,"v":12},{"x":211,"y":45,"v":13},{"x":215,"y":45,"v":14},{"x":217,"y":45,"v":14},{"x":219,"y":45,"v":16},
{"x":155,"y":43,"v":16},{"x":159,"y":43,"v":14},{"x":163,"y":43,"v":14},{"x":165,"y":43,"v":17},{"x":167,"y":43,"v":14},{"x":169,"y":43,"v":14},{"x":171,"y":43,"v":17},{"x":173,"y":43,"v":18},{"x":195,"y":43,"v":18},{"x":197,"y":43,"v":17},{"x":199,"y":43,"v":14},{"x":201,"y":43,"v":13},{"x":203,"y":43,"v":12},{"x":205,"y":43,"v":10},{"x":207,"y":43,"v":12},{"x":213,"y":43,"v":14},{"x":217,"y":43,"v":16},{"x":221,"y":43,"v":17},
{"x":155,"y":41,"v":17},{"x":157,"y":41,"v":14},{"x":161,"y":41,"v":14},{"x":165,"y":41,"v":16},{"x":169,"y":41,"v":16},{"x":173,"y":41,"v":17},{"x":193,"y":41,"v":18},{"x":199,"y":41,"v":16},{"x":201,"y":41,"v":14},{"x":203,"y":41,"v":12},{"x":205,"y":41,"v":12},{"x":207,"y":41,"v":14},{"x":209,"y":41,"v":14},{"x":211,"y":41,"v":14},{"x":213,"y":41,"v":16},{"x":215,"y":41,"v":16},{"x":217,"y":41,"v":17},
{"x":157,"y":39,"v":14},{"x":161,"y":39,"v":16},{"x":163,"y":39,"v":16},{"x":167,"y":39,"v":14},{"x":171,"y":39,"v":16},{"x":177,"y":39,"v":16},{"x":191,"y":39,"v":18},{"x":193,"y":39,"v":17},{"x":195,"y":39,"v":16},{"x":197,"y":39,"v":14},{"x":199,"y":39,"v":12},{"x":201,"y":39,"v":12},{"x":203,"y":39,"v":10},{"x":205,"y":39,"v":12},{"x":207,"y":39,"v":13},{"x":209,"y":39,"v":14},{"x":211,"y":39,"v":14},{"x":213,"y":39,"v":16},{"x":215,"y":39,"v":17},{"x":217,"y":39,"v":18},
{"x":159,"y":37,"v":17},{"x":161,"y":37,"v":18},{"x":189,"y":37,"v":18},{"x":193,"y":37,"v":17},{"x":195,"y":37,"v":16},{"x":197,"y":37,"v":14},{"x":199,"y":37,"v":13},{"x":201,"y":37,"v":12},{"x":203,"y":37,"v":12},{"x":205,"y":37,"v":13},{"x":207,"y":37,"v":14},{"x":209,"y":37,"v":17},
{"x":157,"y":35,"v":17},{"x":161,"y":35,"v":18},{"x":167,"y":35,"v":17},{"x":171,"y":35,"v":17},{"x":173,"y":35,"v":18},{"x":177,"y":35,"v":17},{"x":189,"y":35,"v":17},{"x":191,"y":35,"v":16},{"x":193,"y":35,"v":14},{"x":195,"y":35,"v":13},{"x":197,"y":35,"v":12},{"x":199,"y":35,"v":12},{"x":201,"y":35,"v":10},{"x":203,"y":35,"v":12},{"x":205,"y":35,"v":14},{"x":207,"y":35,"v":17},{"x":209,"y":35,"v":18},
{"x":191,"y":33,"v":17},{"x":193,"y":33,"v":14},{"x":195,"y":33,"v":13},{"x":197,"y":33,"v":12},{"x":199,"y":33,"v":12},{"x":201,"y":33,"v":10},{"x":203,"y":33,"v":12},{"x":205,"y":33,"v":12},{"x":207,"y":33,"v":16},
{"x":170,"y":31,"v":17},{"x":173,"y":31,"v":17},{"x":177,"y":31,"v":17},{"x":179,"y":31,"v":18},{"x":183,"y":31,"v":17},{"x":185,"y":31,"v":18},{"x":187,"y":31,"v":17},{"x":189,"y":31,"v":16},{"x":191,"y":31,"v":13},{"x":193,"y":31,"v":12},{"x":195,"y":31,"v":12},{"x":197,"y":31,"v":12},{"x":199,"y":31,"v":14},{"x":201,"y":31,"v":14},{"x":203,"y":31,"v":14},{"x":205,"y":31,"v":16},{"x":207,"y":31,"v":18},
{"x":187,"y":29,"v":17},{"x":189,"y":29,"v":16},{"x":191,"y":29,"v":14},{"x":193,"y":29,"v":12},{"x":195,"y":29,"v":10},{"x":197,"y":29,"v":12},{"x":199,"y":29,"v":14},{"x":201,"y":29,"v":16},{"x":203,"y":29,"v":17},{"x":205,"y":29,"v":18},
{"x":173,"y":27,"v":17},{"x":177,"y":27,"v":17},{"x":183,"y":27,"v":17},{"x":185,"y":27,"v":17},{"x":187,"y":27,"v":16},{"x":189,"y":27,"v":16},{"x":191,"y":27,"v":14},{"x":193,"y":27,"v":12},{"x":195,"y":27,"v":12},{"x":197,"y":27,"v":13},{"x":199,"y":27,"v":16},{"x":201,"y":27,"v":17},{"x":203,"y":27,"v":18},
{"x":187,"y":25,"v":17},{"x":189,"y":25,"v":16},{"x":191,"y":25,"v":14},{"x":193,"y":25,"v":13},{"x":195,"y":25,"v":14},{"x":197,"y":25,"v":16},{"x":199,"y":25,"v":18},{"x":201,"y":25,"v":18},{"x":203,"y":25,"v":18},
{"x":174,"y":23,"v":17},{"x":177,"y":23,"v":17},{"x":180,"y":23,"v":17},{"x":183,"y":23,"v":17},{"x":185,"y":23,"v":14},{"x":187,"y":23,"v":13},{"x":189,"y":23,"v":10},{"x":191,"y":23,"v":12},{"x":193,"y":23,"v":13},{"x":195,"y":23,"v":14},{"x":197,"y":23,"v":17},{"x":199,"y":23,"v":18},{"x":201,"y":23,"v":18},
{"x":174,"y":21,"v":17},{"x":177,"y":21,"v":16},{"x":180,"y":21,"v":17},{"x":182,"y":21,"v":17},{"x":185,"y":21,"v":14},{"x":189,"y":21,"v":10},{"x":193,"y":21,"v":12},{"x":195,"y":21,"v":13},{"x":197,"y":21,"v":16},{"x":199,"y":21,"v":18},{"x":201,"y":21,"v":18},
{"x":171,"y":19,"v":18},{"x":173,"y":19,"v":17},{"x":175,"y":19,"v":16},{"x":177,"y":19,"v":14},{"x":179,"y":19,"v":14},{"x":183,"y":19,"v":13},{"x":185,"y":19,"v":12},{"x":187,"y":19,"v":12},{"x":189,"y":19,"v":10},{"x":191,"y":19,"v":10},{"x":193,"y":19,"v":12},{"x":195,"y":19,"v":12},{"x":197,"y":19,"v":14},{"x":199,"y":19,"v":16},{"x":201,"y":19,"v":17},
{"x":171,"y":17,"v":18},{"x":173,"y":17,"v":17},{"x":175,"y":17,"v":14},{"x":177,"y":17,"v":13},{"x":179,"y":17,"v":14},{"x":181,"y":17,"v":13},{"x":183,"y":17,"v":12},{"x":185,"y":17,"v":12},{"x":187,"y":17,"v":14},{"x":189,"y":17,"v":13},{"x":191,"y":17,"v":12},{"x":193,"y":17,"v":12},{"x":195,"y":17,"v":10},{"x":197,"y":17,"v":13},{"x":199,"y":17,"v":14},{"x":201,"y":17,"v":17},{"x":203,"y":17,"v":18},{"x":205,"y":17,"v":18},
{"x":167,"y":15,"v":18},{"x":169,"y":15,"v":17},{"x":171,"y":15,"v":16},{"x":173,"y":15,"v":13},{"x":175,"y":15,"v":12},{"x":177,"y":15,"v":10},{"x":179,"y":15,"v":12},{"x":181,"y":15,"v":13},{"x":183,"y":15,"v":13},{"x":185,"y":15,"v":16},{"x":187,"y":15,"v":14},{"x":189,"y":15,"v":12},{"x":191,"y":15,"v":10},{"x":193,"y":15,"v":12},{"x":195,"y":15,"v":12},{"x":197,"y":15,"v":12},{"x":199,"y":15,"v":14},{"x":201,"y":15,"v":16},{"x":203,"y":15,"v":17},{"x":205,"y":15,"v":18},{"x":207,"y":15,"v":18},
{"x":169,"y":13,"v":18},{"x":171,"y":13,"v":17},{"x":173,"y":13,"v":14},{"x":175,"y":13,"v":12},{"x":177,"y":13,"v":10},{"x":179,"y":13,"v":12},{"x":181,"y":13,"v":14},{"x":183,"y":13,"v":16},{"x":185,"y":13,"v":16},{"x":187,"y":13,"v":14},{"x":189,"y":13,"v":13},{"x":191,"y":13,"v":12},{"x":193,"y":13,"v":12},{"x":195,"y":13,"v":13},{"x":197,"y":13,"v":14},{"x":199,"y":13,"v":16},{"x":201,"y":13,"v":17},{"x":203,"y":13,"v":18},
{"x":163,"y":11,"v":18},{"x":165,"y":11,"v":18},{"x":167,"y":11,"v":16},{"x":169,"y":11,"v":14},{"x":171,"y":11,"v":13},{"x":173,"y":11,"v":12},{"x":175,"y":11,"v":10},{"x":177,"y":11,"v":12},{"x":179,"y":11,"v":13},{"x":181,"y":11,"v":14},{"x":183,"y":11,"v":16},{"x":185,"y":11,"v":17},{"x":187,"y":11,"v":16},{"x":189,"y":11,"v":14},{"x":191,"y":11,"v":13},{"x":193,"y":11,"v":14},{"x":195,"y":11,"v":14},{"x":197,"y":11,"v":14},{"x":199,"y":11,"v":16},{"x":201,"y":11,"v":17},{"x":203,"y":11,"v":18},{"x":205,"y":11,"v":18},{"x":207,"y":11,"v":18},
{"x":165,"y":9,"v":17},{"x":167,"y":9,"v":14},{"x":169,"y":9,"v":13},{"x":171,"y":9,"v":12},{"x":173,"y":9,"v":10},{"x":175,"y":9,"v":10},{"x":177,"y":9,"v":12},{"x":179,"y":9,"v":13},{"x":181,"y":9,"v":14},{"x":185,"y":9,"v":17},{"x":187,"y":9,"v":17},{"x":191,"y":9,"v":17},{"x":195,"y":9,"v":16},{"x":199,"y":9,"v":17},{"x":203,"y":9,"v":18},
{"x":161,"y":7,"v":18},{"x":163,"y":7,"v":16},{"x":165,"y":7,"v":14},{"x":167,"y":7,"v":13},{"x":169,"y":7,"v":12},{"x":171,"y":7,"v":12},{"x":173,"y":7,"v":10},{"x":175,"y":7,"v":12},{"x":177,"y":7,"v":13},{"x":179,"y":7,"v":14},{"x":181,"y":7,"v":16},{"x":185,"y":7,"v":17},{"x":187,"y":7,"v":18},{"x":191,"y":7,"v":17},{"x":193,"y":7,"v":17},{"x":195,"y":7,"v":18},{"x":197,"y":7,"v":17},{"x":199,"y":7,"v":17},{"x":201,"y":7,"v":17},{"x":203,"y":7,"v":18},{"x":205,"y":7,"v":18},
{"x":161,"y":5,"v":16},{"x":163,"y":5,"v":14},{"x":165,"y":5,"v":13},{"x":167,"y":5,"v":12},{"x":169,"y":5,"v":10},{"x":171,"y":5,"v":12},{"x":173,"y":5,"v":12},{"x":175,"y":5,"v":13},{"x":177,"y":5,"v":13},{"x":179,"y":5,"v":14},{"x":181,"y":5,"v":16},{"x":183,"y":5,"v":17},{"x":187,"y":5,"v":17},{"x":191,"y":5,"v":17},{"x":195,"y":5,"v":18},{"x":199,"y":5,"v":18},{"x":201,"y":5,"v":18},
{"x":159,"y":3,"v":18},{"x":161,"y":3,"v":16},{"x":163,"y":3,"v":14},{"x":165,"y":3,"v":13},{"x":167,"y":3,"v":12},{"x":169,"y":3,"v":12},{"x":171,"y":3,"v":13},{"x":173,"y":3,"v":13},{"x":175,"y":3,"v":14},{"x":177,"y":3,"v":14},{"x":179,"y":3,"v":16},{"x":181,"y":3,"v":17},{"x":184,"y":3,"v":18},{"x":188,"y":3,"v":18},{"x":191,"y":3,"v":18},{"x":195,"y":3,"v":18},{"x":199,"y":3,"v":18},{"x":201,"y":3,"v":18},
{"x":161,"y":1,"v":16},{"x":163,"y":1,"v":14},{"x":165,"y":1,"v":13},{"x":167,"y":1,"v":13},{"x":169,"y":1,"v":12},{"x":171,"y":1,"v":13},{"x":173,"y":1,"v":14},{"x":175,"y":1,"v":14},{"x":177,"y":1,"v":16},{"x":179,"y":1,"v":16},{"x":181,"y":1,"v":17},{"x":183,"y":1,"v":18},
{"x":197,"y":183,"v":13},{"x":199,"y":183,"v":17},{"x":191,"y":185,"v":12},{"x":193,"y":185,"v":14},{"x":195,"y":185,"v":17},{"x":197,"y":185,"v":18},{"x":199,"y":185,"v":18},{"x":197,"y":181,"v":16},{"x":195,"y":181,"v":14},{"x":193,"y":181,"v":14},{"x":191,"y":181,"v":13},{"x":189,"y":181,"v":12},{"x":193,"y":183,"v":12},{"x":195,"y":183,"v":13},{"x":189,"y":175,"v":12},{"x":191,"y":175,"v":12},{"x":193,"y":175,"v":10},{"x":195,"y":175,"v":12},{"x":197,"y":175,"v":13},{"x":199,"y":175,"v":13},{"x":201,"y":175,"v":14},{"x":203,"y":175,"v":18},{"x":185,"y":175,"v":14},{"x":187,"y":175,"v":13},{"x":189,"y":179,"v":12},{"x":191,"y":179,"v":14},{"x":193,"y":179,"v":13},{"x":195,"y":179,"v":14},{"x":197,"y":179,"v":16},{"x":199,"y":179,"v":17},{"x":189,"y":177,"v":10},{"x":191,"y":177,"v":12},{"x":193,"y":177,"v":12},{"x":195,"y":177,"v":10},{"x":197,"y":177,"v":13},{"x":199,"y":177,"v":14},{"x":201,"y":177,"v":16},{"x":203,"y":177,"v":18},{"x":187,"y":173,"v":16},{"x":189,"y":173,"v":13},{"x":191,"y":173,"v":13},{"x":193,"y":173,"v":12},{"x":195,"y":173,"v":12},{"x":197,"y":173,"v":12},{"x":199,"y":173,"v":14},{"x":201,"y":173,"v":16},{"x":203,"y":173,"v":17},{"x":205,"y":173,"v":18},{"x":189,"y":171,"v":17},{"x":191,"y":171,"v":16},{"x":193,"y":171,"v":13},{"x":195,"y":171,"v":12},{"x":197,"y":171,"v":13},{"x":199,"y":171,"v":14},{"x":201,"y":171,"v":16},{"x":203,"y":171,"v":18},{"x":189,"y":169,"v":18},{"x":193,"y":169,"v":16},{"x":195,"y":169,"v":13},{"x":197,"y":169,"v":12},{"x":199,"y":169,"v":12},{"x":201,"y":169,"v":12},{"x":203,"y":169,"v":14},{"x":205,"y":169,"v":16},{"x":192,"y":167,"v":18},{"x":195,"y":167,"v":16},{"x":197,"y":167,"v":14},{"x":201,"y":167,"v":16},{"x":203,"y":167,"v":16},{"x":205,"y":167,"v":17},{"x":195,"y":165,"v":17},{"x":197,"y":165,"v":16},{"x":199,"y":165,"v":14},{"x":203,"y":165,"v":16},{"x":205,"y":165,"v":14},{"x":207,"y":165,"v":18},{"x":195,"y":163,"v":17},{"x":199,"y":163,"v":16},{"x":201,"y":163,"v":16},{"x":205,"y":163,"v":16},{"x":195,"y":161,"v":17},{"x":199,"y":161,"v":16},{"x":203,"y":161,"v":14},{"x":205,"y":161,"v":17},{"x":207,"y":161,"v":16},{"x":199,"y":159,"v":17},{"x":201,"y":159,"v":16},{"x":203,"y":159,"v":14},{"x":205,"y":159,"v":16},{"x":207,"y":159,"v":17},{"x":201,"y":157,"v":17},{"x":204,"y":157,"v":17},{"x":202,"y":155,"v":17},{"x":206,"y":155,"v":17},{"x":208,"y":155,"v":17},{"x":202,"y":151,"v":18},{"x":207,"y":151,"v":17},{"x":212,"y":158,"v":17},{"x":215,"y":161,"v":16},{"x":219,"y":161,"v":16},{"x":221,"y":161,"v":16},{"x":219,"y":159,"v":16},{"x":216,"y":157,"v":17},{"x":220,"y":156,"v":17},{"x":215,"y":159,"v":17},
{"x":185,"y":171,"v":12},{"x":187,"y":171,"v":14},{"x":209,"y":207,"v":10},{"x":211,"y":207,"v":12},{"x":213,"y":207,"v":12},{"x":215,"y":207,"v":12},{"x":217,"y":207,"v":13},{"x":219,"y":207,"v":16},{"x":221,"y":207,"v":16},{"x":209,"y":205,"v":13},{"x":211,"y":205,"v":14},{"x":213,"y":205,"v":16},{"x":215,"y":205,"v":17},{"x":217,"y":205,"v":18},{"x":211,"y":203,"v":16},{"x":213,"y":203,"v":17},{"x":217,"y":203,"v":18},{"x":209,"y":201,"v":18},{"x":211,"y":201,"v":17},
{"x":87,"y":71,"v":14},{"x":85,"y":71,"v":14},{"x":85,"y":69,"v":12},{"x":87,"y":69,"v":14},{"x":84,"y":67,"v":13},{"x":87,"y":67,"v":14},{"x":89,"y":67,"v":17},{"x":81,"y":67,"v":12},{"x":79,"y":65,"v":12},{"x":81,"y":65,"v":13},{"x":84,"y":65,"v":14},{"x":86,"y":65,"v":14},{"x":90,"y":65,"v":16},{"x":77,"y":63,"v":13},{"x":79,"y":63,"v":14},{"x":81,"y":63,"v":16},{"x":83,"y":63,"v":16},{"x":87,"y":63,"v":14},{"x":91,"y":63,"v":16},{"x":93,"y":63,"v":18},{"x":75,"y":61,"v":14},{"x":79,"y":61,"v":16},{"x":81,"y":61,"v":16},{"x":85,"y":61,"v":16},{"x":89,"y":61,"v":14},{"x":93,"y":61,"v":16},{"x":95,"y":61,"v":18},{"x":81,"y":59,"v":17},{"x":83,"y":59,"v":17},{"x":87,"y":59,"v":17},{"x":91,"y":59,"v":16},{"x":93,"y":59,"v":16},{"x":97,"y":59,"v":17},{"x":84,"y":57,"v":17},{"x":87,"y":57,"v":16},{"x":90,"y":57,"v":17},{"x":94,"y":57,"v":16},{"x":97,"y":57,"v":16},{"x":99,"y":57,"v":18},{"x":86,"y":55,"v":17},{"x":89,"y":55,"v":17},{"x":92,"y":55,"v":17},{"x":95,"y":55,"v":16},{"x":99,"y":55,"v":17},{"x":101,"y":55,"v":18},{"x":88,"y":53,"v":17},{"x":91,"y":53,"v":17},{"x":94,"y":53,"v":17},{"x":97,"y":53,"v":17},{"x":101,"y":53,"v":17},{"x":103,"y":51,"v":17},{"x":90,"y":51,"v":18},{"x":93,"y":51,"v":17},{"x":97,"y":51,"v":18},{"x":100,"y":51,"v":17},{"x":92,"y":49,"v":18},{"x":95,"y":49,"v":17},{"x":99,"y":49,"v":18},{"x":103,"y":48,"v":17},{"x":101,"y":47,"v":18},{"x":105,"y":46,"v":18},{"x":106,"y":48,"v":17},{"x":110,"y":46,"v":18},{"x":103,"y":44,"v":17},{"x":100,"y":41,"v":17},{"x":97,"y":39,"v":17},{"x":95,"y":41,"v":18},{"x":99,"y":38,"v":18},{"x":108,"y":51,"v":17},
{"x":37,"y":23,"v":13},{"x":39,"y":23,"v":14},{"x":41,"y":23,"v":16},{"x":35,"y":21,"v":13},{"x":37,"y":21,"v":13},{"x":39,"y":21,"v":16},{"x":41,"y":21,"v":17},{"x":43,"y":21,"v":18},{"x":33,"y":19,"v":12},{"x":35,"y":19,"v":13},{"x":37,"y":19,"v":14},{"x":39,"y":19,"v":16},{"x":41,"y":19,"v":17},{"x":43,"y":19,"v":18},{"x":31,"y":17,"v":12},{"x":33,"y":17,"v":13},{"x":35,"y":17,"v":13},{"x":37,"y":17,"v":14},{"x":39,"y":17,"v":14},{"x":41,"y":17,"v":16},{"x":43,"y":17,"v":18},{"x":29,"y":15,"v":12},{"x":31,"y":15,"v":12},{"x":33,"y":15,"v":12},{"x":35,"y":15,"v":12},{"x":37,"y":15,"v":13},{"x":39,"y":15,"v":14},{"x":41,"y":15,"v":16},{"x":43,"y":15,"v":17},{"x":27,"y":13,"v":14},{"x":29,"y":13,"v":13},{"x":31,"y":13,"v":14},{"x":33,"y":13,"v":14},{"x":35,"y":13,"v":13},{"x":37,"y":13,"v":12},{"x":39,"y":13,"v":14},{"x":41,"y":13,"v":16},{"x":43,"y":13,"v":17},{"x":29,"y":11,"v":17},{"x":31,"y":11,"v":16},{"x":33,"y":11,"v":14},{"x":35,"y":11,"v":14},{"x":37,"y":11,"v":14},{"x":39,"y":11,"v":14},{"x":41,"y":11,"v":16},{"x":43,"y":11,"v":17},{"x":32,"y":9,"v":17},{"x":34,"y":9,"v":14},{"x":38,"y":9,"v":14},{"x":41,"y":9,"v":16},{"x":43,"y":9,"v":17},{"x":33,"y":7,"v":18},{"x":35,"y":7,"v":16},{"x":37,"y":7,"v":14},{"x":41,"y":7,"v":17},{"x":35,"y":5,"v":18},{"x":38,"y":5,"v":17},{"x":43,"y":5,"v":16},{"x":38,"y":3,"v":18},{"x":42,"y":3,"v":17},
{"x":45,"y":13,"v":17},{"x":45,"y":9,"v":17},{"x":45,"y":5,"v":17},{"x":47,"y":11,"v":16},{"x":47,"y":7,"v":17},{"x":47,"y":3,"v":17},{"x":49,"y":15,"v":17},{"x":49,"y":9,"v":16},{"x":49,"y":5,"v":17},{"x":51,"y":13,"v":17},{"x":51,"y":11,"v":16},{"x":51,"y":7,"v":16},{"x":51,"y":3,"v":18},{"x":53,"y":17,"v":18},{"x":53,"y":9,"v":16},{"x":53,"y":5,"v":17},{"x":55,"y":15,"v":17},{"x":55,"y":11,"v":16},{"x":55,"y":7,"v":17},{"x":57,"y":17,"v":17},{"x":57,"y":13,"v":17},{"x":57,"y":9,"v":18},{"x":59,"y":15,"v":17},{"x":59,"y":11,"v":18},{"x":61,"y":17,"v":18},{"x":61,"y":13,"v":18},{"x":63,"y":15,"v":18},
{"x":61,"y":45,"v":17},{"x":63,"y":45,"v":18},{"x":59,"y":43,"v":16},{"x":61,"y":43,"v":17},{"x":55,"y":41,"v":13},{"x":57,"y":41,"v":14},{"x":59,"y":41,"v":14},{"x":61,"y":41,"v":16},{"x":63,"y":41,"v":18},{"x":53,"y":39,"v":12},{"x":55,"y":39,"v":13},{"x":57,"y":39,"v":13},{"x":59,"y":39,"v":14},{"x":61,"y":39,"v":16},{"x":63,"y":39,"v":18},{"x":51,"y":37,"v":12},{"x":53,"y":37,"v":12},{"x":55,"y":37,"v":13},{"x":57,"y":37,"v":14},{"x":59,"y":37,"v":16},{"x":61,"y":37,"v":17},{"x":63,"y":37,"v":18},{"x":49,"y":35,"v":13},{"x":51,"y":35,"v":14},{"x":53,"y":35,"v":13},{"x":55,"y":35,"v":14},{"x":57,"y":35,"v":16},{"x":59,"y":35,"v":17},{"x":61,"y":35,"v":18},{"x":47,"y":33,"v":14},{"x":49,"y":33,"v":14},{"x":51,"y":33,"v":16},{"x":53,"y":33,"v":16},{"x":55,"y":33,"v":17},{"x":57,"y":33,"v":18},{"x":60,"y":33,"v":18},{"x":47,"y":31,"v":16},{"x":49,"y":31,"v":16},{"x":51,"y":31,"v":17},{"x":53,"y":31,"v":17},{"x":57,"y":31,"v":18},{"x":50,"y":29,"v":18},{"x":53,"y":28,"v":18},{"x":46,"y":29,"v":18}
]},
"hconcat":[
{"width":1665,"height":1664,"view":{"fill":"#0000ff","stroke":"#6a6a8a","strokeWidth":1.5},
"resolve":{"axis":{"x":"independent","y":"independent"}},
"encoding":{"color":{"field":"v","type":"quantitative","scale":{"type":"threshold","domain":[2,3.3,4.6,5.9,7.1,8.4,9.7,11,12.3,13.5,14.8,16.1,17.4,18.7,20],"range":["#ff0000","#ff1e00","#ff4d00","#ff6a00","#ff8a00","#ffa800","#a8c288","#9fbb8c","#96b490","#8cac95","#83a59a","#7a9e9f","#7197a4","#6890ab","#5a86b8","#0000ff"]},"legend":null}},
"layer":[
{"data":{"name":"cells"},"mark":{"type":"rect","width":15.4,"height":15.4,"clip":true},"encoding":{
"x":{"field":"x","type":"quantitative","scale":{"domain":[1,222.5],"nice":false,"zero":false},"axis":{"values":[50,100,150,200],"title":"Residue index","titleFont":"Liberation Sans","titleFontSize":60,"titleFontWeight":"bold","titleColor":"black","titlePadding":3,"labelFont":"Liberation Sans","labelFontSize":60,"labelFontWeight":"bold","labelColor":"black","labelPadding":-1,"tickSize":6,"tickColor":"#555","grid":false,"domain":false}},
"y":{"field":"y","type":"quantitative","scale":{"domain":[1,222.5],"nice":false,"zero":false},"axis":{"values":[50,100,150,200],"title":"Residue index","titleFont":"Liberation Sans","titleFontSize":60,"titleFontWeight":"bold","titleColor":"black","titlePadding":1,"labelFont":"Liberation Sans","labelFontSize":60,"labelFontWeight":"bold","labelColor":"black","labelPadding":3,"tickSize":6,"tickColor":"#555","grid":false,"domain":false}}}},
{"data":{"name":"cells"},"mark":{"type":"rect","width":15.4,"height":15.4,"clip":true},"encoding":{
"x":{"field":"y","type":"quantitative","scale":{"domain":[1,222.5],"nice":false,"zero":false},"axis":{"orient":"top","values":[50,100,150,200],"labels":false,"title":null,"tickSize":6,"tickColor":"#555","grid":false,"domain":false}},
"y":{"field":"x","type":"quantitative","scale":{"domain":[1,222.5],"nice":false,"zero":false},"axis":{"orient":"right","values":[50,100,150,200],"labels":false,"title":null,"tickSize":6,"tickColor":"#555","grid":false,"domain":false}}}},
{"data":{"name":"band"},"mark":{"type":"rule","strokeWidth":5.8,"clip":true},"encoding":{"x":{"field":"x0","type":"quantitative","axis":null},"y":{"field":"y0","type":"quantitative","axis":null},"x2":{"field":"x1"},"y2":{"field":"y1"}}},
{"data":{"name":"band"},"mark":{"type":"rule","strokeWidth":5.8,"clip":true},"encoding":{"x":{"field":"y0","type":"quantitative","axis":null},"y":{"field":"x0","type":"quantitative","axis":null},"x2":{"field":"y1"},"y2":{"field":"x1"}}},
{"data":{"name":"dash"},"mark":{"type":"rule","strokeWidth":5.8,"clip":true,"strokeDash":[10.62,10.62]},"encoding":{"x":{"field":"x0","type":"quantitative","axis":null},"y":{"field":"y0","type":"quantitative","axis":null},"x2":{"field":"x1"},"y2":{"field":"y1"}}},
{"data":{"name":"dash"},"mark":{"type":"rule","strokeWidth":5.8,"clip":true,"strokeDash":[10.62,10.62]},"encoding":{"x":{"field":"y0","type":"quantitative","axis":null},"y":{"field":"x0","type":"quantitative","axis":null},"x2":{"field":"y1"},"y2":{"field":"x1"}}},
{"data":{"name":"spots"},"mark":{"type":"rect","width":7.6,"height":7.6,"clip":true},"encoding":{"x":{"field":"x","type":"quantitative","axis":null},"y":{"field":"y","type":"quantitative","axis":null}}},
{"data":{"name":"spots"},"mark":{"type":"rect","width":7.6,"height":7.6,"clip":true},"encoding":{"x":{"field":"y","type":"quantitative","axis":null},"y":{"field":"x","type":"quantitative","axis":null}}}
]},
{"width":13,"height":1664,"view":{"stroke":"#444","strokeWidth":1.5},"data":{"name":"bar"},"mark":{"type":"rect"},"encoding":{
"y":{"field":"lo","type":"quantitative","scale":{"domain":[0.73,21.25],"nice":false,"zero":false},"axis":{"orient":"right","values":[5,10,15,20],"title":null,"labelFont":"Liberation Sans","labelFontSize":50,"labelFontWeight":"bold","labelColor":"black","labelPadding":4,"tickSize":5,"tickColor":"#777","grid":false,"domain":false}},
"y2":{"field":"hi"},
"color":{"field":"v","type":"quantitative","scale":{"type":"threshold","domain":[2,3.3,4.6,5.9,7.1,8.4,9.7,11,12.3,13.5,14.8,16.1,17.4,18.7,20],"range":["#ff0000","#ff1e00","#ff4d00","#ff6a00","#ff8a00","#ffa800","#a8c288","#9fbb8c","#96b490","#8cac95","#83a59a","#7a9e9f","#7197a4","#6890ab","#5a86b8","#0000ff"]},"legend":null}}}
]}
